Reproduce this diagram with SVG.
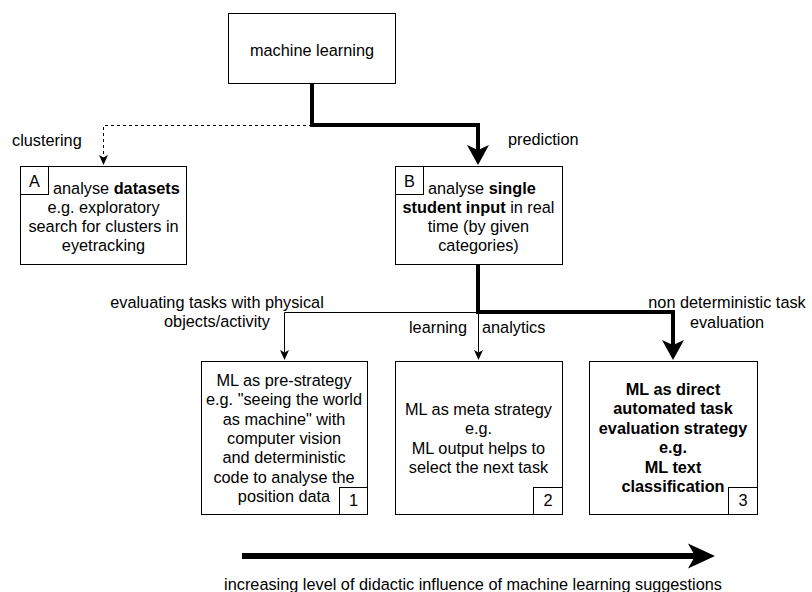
<svg xmlns="http://www.w3.org/2000/svg" width="812" height="592" viewBox="0 0 812 592">
<style>
text{font-family:"Liberation Sans",Arial,Helvetica,sans-serif;font-size:16.3px;fill:#000}
.c{text-anchor:middle}
.b{font-weight:bold}
.box{fill:#fff;stroke:#000;stroke-width:1}
.thin{fill:none;stroke:#000;stroke-width:1}
.thick{fill:none;stroke:#000;stroke-width:4}
.dash{fill:none;stroke:#000;stroke-width:1;stroke-dasharray:3 3}
</style>
<defs>
<marker id="big" markerUnits="userSpaceOnUse" markerWidth="20" markerHeight="22" refX="5" refY="11" orient="auto" overflow="visible">
<path d="M0,0 L20,11 L0,22 L5,11 Z" fill="#000"/>
</marker>
<marker id="small" markerUnits="userSpaceOnUse" markerWidth="10" markerHeight="9" refX="2.5" refY="4.5" orient="auto" overflow="visible">
<path d="M0,0 L10,4.5 L0,9 L2.5,4.5 Z" fill="#000"/>
</marker>
<marker id="huge" markerUnits="userSpaceOnUse" markerWidth="27" markerHeight="25" refX="7" refY="12.5" orient="auto" overflow="visible">
<path d="M0,0 L27,12.5 L0,25 L7,12.5 Z" fill="#000"/>
</marker>
</defs>

<g id="connectors">
<path class="dash" d="M312,125.5 H103.5 V157.5" marker-end="url(#small)"/>
<path class="thick" d="M312,83 V125 H478 V150" marker-end="url(#big)"/>
<path class="thin" d="M478,312.5 H284.5 V352.5" marker-end="url(#small)"/>
<path class="thin" d="M478.5,312 V352.5" marker-end="url(#small)"/>
<path class="thick" d="M478,264 V312 H673 V345" marker-end="url(#big)"/>
<path d="M242,556 H695" fill="none" stroke="#000" stroke-width="6" marker-end="url(#huge)"/>
<text x="12" y="146">clustering</text>
<text x="508" y="145">prediction</text>
<text class="c" x="217" y="308">evaluating tasks with physical</text>
<text class="c" x="217" y="327">objects/activity</text>
<text y="333"><tspan x="409">learning</tspan><tspan x="482">analytics</tspan></text>
<text class="c" x="727" y="308">non deterministic task</text>
<text class="c" x="727" y="328">evaluation</text>
<text class="c" x="473" y="590">increasing level of didactic influence of machine learning suggestions</text>
</g>

<g id="ml">
<rect class="box" x="228.5" y="13.5" width="167" height="70"/>
<text class="c" x="312" y="56">machine learning</text>
</g>

<g id="nodeA">
<rect class="box" x="20.5" y="166.5" width="166" height="98"/>
<rect class="box" x="20.5" y="166.5" width="28" height="28"/>
<text class="c" x="34.5" y="187">A</text>
<text x="53" y="194">analyse <tspan class="b">datasets</tspan></text>
<text class="c" x="103.5" y="213">e.g. exploratory</text>
<text class="c" x="103.5" y="232">search for clusters in</text>
<text class="c" x="103.5" y="251">eyetracking</text>
</g>

<g id="nodeB">
<rect class="box" x="395.5" y="166.5" width="167" height="98"/>
<rect class="box" x="395.5" y="166.5" width="28" height="28"/>
<text class="c" x="409.5" y="187">B</text>
<text x="428" y="194">analyse <tspan class="b">single</tspan></text>
<text class="c" x="478.5" y="213"><tspan class="b">student input</tspan> in real</text>
<text class="c" x="478.5" y="232">time (by given</text>
<text class="c" x="478.5" y="251">categories)</text>
</g>

<g id="node1">
<rect class="box" x="201.5" y="361.5" width="166" height="153"/>
<rect class="box" x="339.5" y="487.5" width="28" height="27"/>
<text class="c" x="353.5" y="506">1</text>
<text class="c" x="284" y="386">ML as pre-strategy</text>
<text class="c" x="284" y="405.3">e.g. "seeing the world</text>
<text class="c" x="284" y="424.7">as machine" with</text>
<text class="c" x="284" y="444">computer vision</text>
<text class="c" x="284" y="463.3">and deterministic</text>
<text class="c" x="284" y="482.7">code to analyse the</text>
<text class="c" x="284" y="502">position data</text>
</g>

<g id="node2">
<rect class="box" x="395.5" y="361.5" width="167" height="153"/>
<rect class="box" x="533.5" y="487.5" width="29" height="27"/>
<text class="c" x="548" y="506">2</text>
<text class="c" x="478.5" y="415">ML as meta strategy</text>
<text class="c" x="478.5" y="434.3">e.g.</text>
<text class="c" x="478.5" y="453.7">ML output helps to</text>
<text class="c" x="478.5" y="473">select the next task</text>
</g>

<g id="node3">
<rect class="box" x="589.5" y="361.5" width="168" height="153"/>
<rect class="box" x="728.5" y="487.5" width="29" height="27"/>
<text class="c" x="743" y="506">3</text>
<text class="c b" x="673" y="395">ML as direct</text>
<text class="c b" x="673" y="414.4">automated task</text>
<text class="c b" x="673" y="433.8">evaluation strategy</text>
<text class="c b" x="673" y="453.2">e.g.</text>
<text class="c b" x="673" y="472.6">ML text</text>
<text class="c b" x="673" y="492">classification</text>
</g>
</svg>
